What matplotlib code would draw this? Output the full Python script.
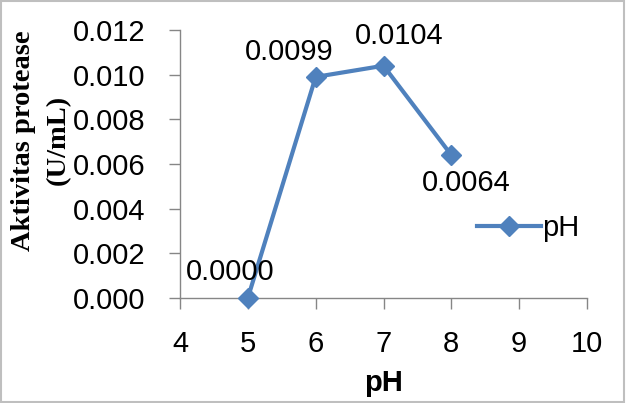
import matplotlib
matplotlib.use("Agg")
import matplotlib.pyplot as plt
from matplotlib.patches import Rectangle

ph = [5, 6, 7, 8]
aktivitas = [0.0000, 0.0099, 0.0104, 0.0064]
labels = ["0.0000", "0.0099", "0.0104", "0.0064"]
label_offsets = [(-18, 26), (-26, 25), (16, 30), (15, -28)]
x_ticks = [4, 5, 6, 7, 8, 9, 10]
y_ticks = [0.000, 0.002, 0.004, 0.006, 0.008, 0.010, 0.012]

blue = "#4F81BD"
grey = "#868686"
sans = "Liberation Sans"
fs = 21

fig = plt.figure(figsize=(6.26, 4.03), dpi=100)
ax = fig.add_axes([180 / 626, 1 - 298 / 403, 407 / 626, 268 / 403])

ax.plot(ph, aktivitas, color=blue, lw=3, marker="D", ms=10, label="pH",
        clip_on=False, zorder=3)

for x, y, t, off in zip(ph, aktivitas, labels, label_offsets):
    ax.annotate(t, (x, y), xytext=off, textcoords="offset pixels",
                ha="center", va="center", fontsize=fs, family=sans)

ax.set_xlim(4, 10)
ax.set_ylim(0, 0.012)
ax.set_xticks(x_ticks)
ax.set_yticks(y_ticks)
ax.set_xticklabels([str(v) for v in x_ticks], family=sans, fontsize=fs)
ax.set_yticklabels(["%.3f" % v for v in y_ticks], family=sans, fontsize=fs)

for s in ["top", "right"]:
    ax.spines[s].set_visible(False)
for s in ["left", "bottom"]:
    ax.spines[s].set_color(grey)
    ax.spines[s].set_linewidth(1)
ax.tick_params(axis="both", direction="out", length=8, color=grey, width=1)
ax.tick_params(axis="y", pad=17)
ax.tick_params(axis="x", pad=15)
ax.patch.set_visible(False)

fig.text(384 / 626, 1 - 383 / 403, "pH", ha="center", va="center",
         family=sans, fontsize=fs, fontweight="bold")

fig.text(24 / 626, 1 - 141 / 403, "Aktivitas protease", rotation=90,
         ha="center", va="center", family="Liberation Serif",
         fontweight="bold", fontsize=20.5)
fig.text(58 / 626, 1 - 140 / 403, "(U/mL)", rotation=90,
         ha="center", va="center", family="Liberation Serif",
         fontweight="bold", fontsize=20.5)

leg = ax.legend(loc="center left", bbox_to_anchor=(0.70, 0.26), frameon=False,
                prop={"family": sans, "size": fs}, handlelength=2.2,
                handletextpad=0.05, borderaxespad=0)

fig.patches.append(Rectangle((0.002, 0.003), 0.995, 0.994, transform=fig.transFigure,
                             fill=False, edgecolor="#BFBFBF", lw=1.5))

fig.savefig("out.png", dpi=100)
